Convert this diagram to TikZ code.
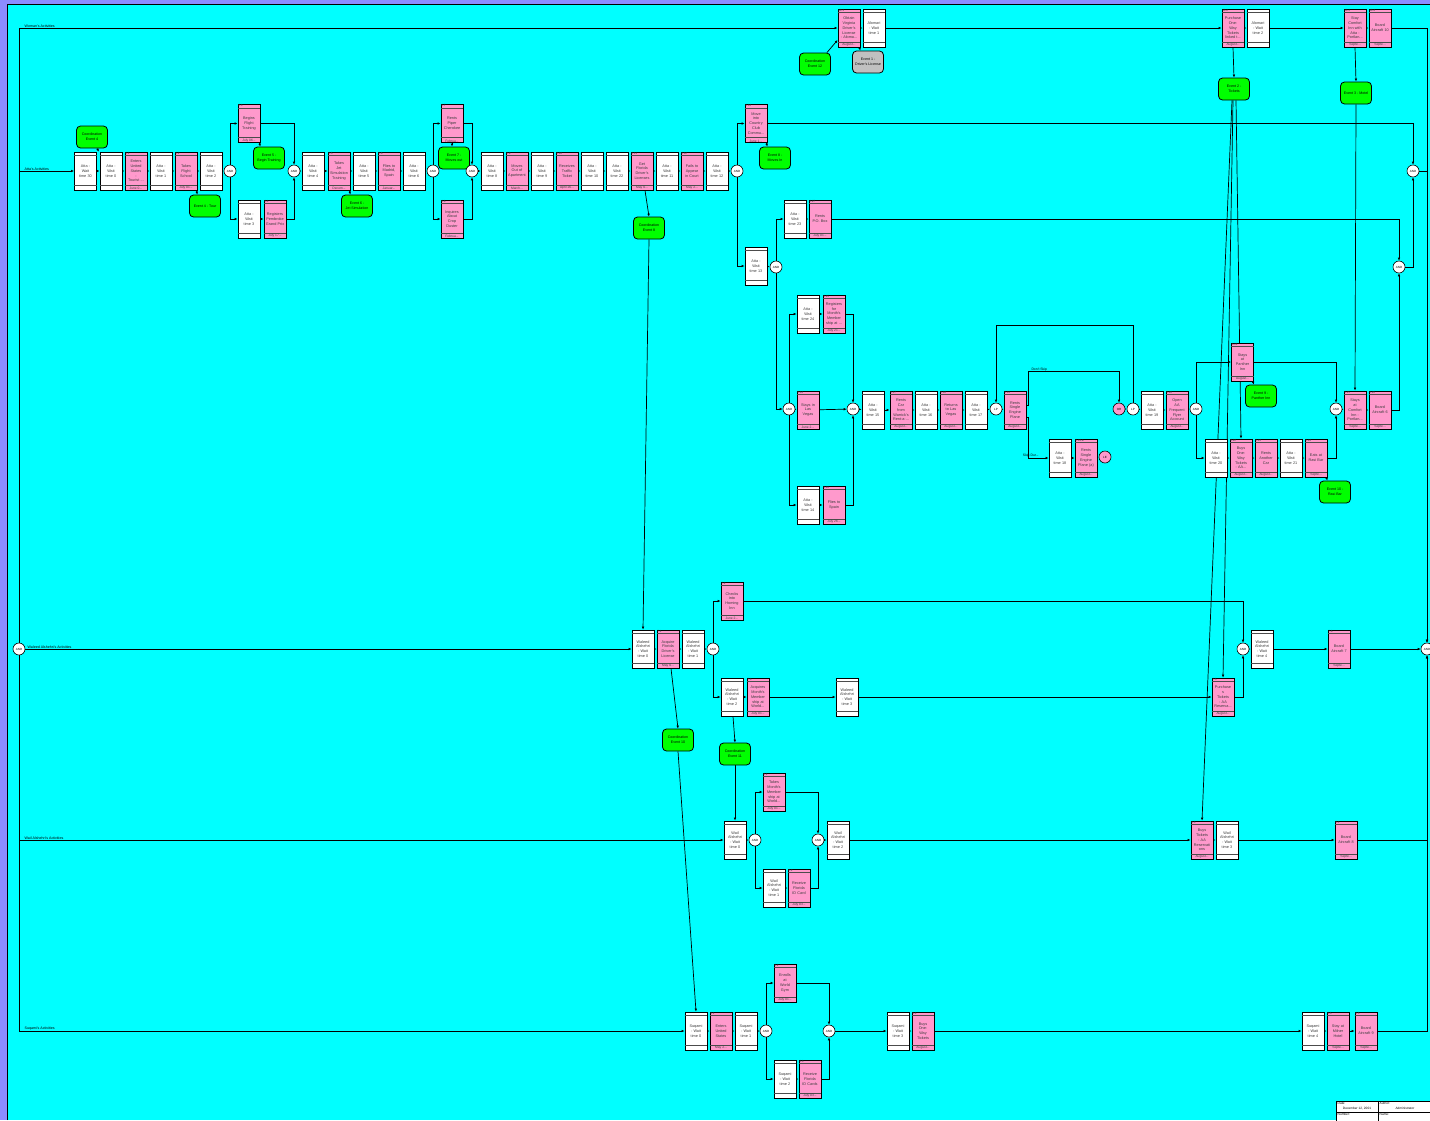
\documentclass[tikz,border=0pt]{standalone}
\usepackage{fontspec}
\setmainfont{Liberation Sans}
\usetikzlibrary{arrows.meta,calc}
\definecolor{bgcyan}{RGB}{0,255,255}
\definecolor{pinkbox}{RGB}{255,153,204}
\definecolor{evgreen}{RGB}{0,255,0}
\definecolor{evgray}{RGB}{192,192,192}
\definecolor{frameblue}{RGB}{140,140,255}
\definecolor{txt}{RGB}{60,60,60}
\pgfdeclarelayer{back}\pgfdeclarelayer{bg}\pgfsetlayers{back,bg,main}
\tikzset{
 boxbase/.style={draw=black, line width=0.8pt, rectangle, minimum width=22pt, minimum height=38pt, inner sep=0pt, text width=21pt, align=center, font=\fontsize{3.8}{4.8}\selectfont, text=txt},
 band/.style={draw=black!70, line width=0.9pt},
 idlab/.style={font=\fontsize{3}{3}\selectfont, inner sep=0.5pt, text=txt},
 datelab/.style={font=\fontsize{3.3}{3.3}\selectfont, inner sep=0.6pt, text=txt},
 gate/.style={circle, draw=black, line width=0.6pt, fill=white, minimum size=12pt, inner sep=0pt, font=\fontsize{3}{3}\selectfont},
 event/.style={rounded corners=4pt, draw=black, line width=0.8pt, fill=evgreen, minimum width=31pt, minimum height=22pt, inner sep=0pt, align=center, font=\fontsize{3.6}{4.8}\selectfont},
 ln/.style={draw=black, line width=0.7pt},
 arr/.style={ln, -{Latex[length=3pt,width=2.6pt]}},
 lanelab/.style={font=\fontsize{3.6}{4}\selectfont, anchor=south west, inner sep=0.5pt},
 tbl/.style={font=\fontsize{3.2}{3.6}\selectfont, inner sep=0.5pt},
}
\newcommand\wbox[4]{%
 \node[boxbase, fill=white] (#1) at (#2,#3) {#4};
 \draw[band] ($(#1.north west)+(0,4)$) -- ($(#1.north east)+(0,4)$);
 \draw[band] ($(#1.south west)+(0,-5)$) -- ($(#1.south east)+(0,-5)$);
}
\newcommand\pbox[6]{%
 \node[boxbase, fill=pinkbox] (#1) at (#2,#3) {#5};
 \draw[band] ($(#1.north west)+(0,4)$) -- ($(#1.north east)+(0,4)$);
 \draw[band] ($(#1.south west)+(0,-5)$) -- ($(#1.south east)+(0,-5)$);
 \node[idlab, anchor=north west] (#1-id) at (#1.north west) {#4};
 \node[datelab, anchor=south] (#1-dt) at (#1.south) {#6};
}
\begin{document}
\begin{tikzpicture}[x=1pt,y=-1pt]
\useasboundingbox (0,0) rectangle (1430,1120);
\begin{pgfonlayer}{back}
\fill[frameblue] (0,0) rectangle (1430,1120);
\fill[bgcyan] (7,4) rectangle (1430,1120);
\draw[line width=0.8pt] (7,1120) -- (7,4) -- (1430,4);
\end{pgfonlayer}

% lane labels
\node[lanelab] (lbw) at (24,28) {Woman's Activities};
\node[lanelab] (lba) at (24,171) {Atta's Activities};
\node[lanelab] (lbwa) at (27,649) {Waleed Alshehri's Activities};
\node[lanelab] (lbwl) at (24,840) {Wail Alshehri's Activities};
\node[lanelab] (lbs) at (24,1031) {Suqami's Activities};

\node[gate] (s0) at (19,649) {AND};
\node[gate] (f0) at (1427,649) {AND};

% Woman
\pbox{w1}{849}{28}{10.1}{Obtain\\Virginia\\Driver's\\License\\- Aloma...}{August...}
\wbox{w2}{874}{28}{Alomari\\- Wait\\time 1}
\pbox{w3}{1233}{28}{10.2}{Purchase\\One-\\Way\\Tickets\\linked t...}{August...}
\wbox{w4}{1258}{28}{Alomari\\- Wait\\time 2}
\pbox{w5}{1355}{28}{10.3}{Stay\\Comfort\\Inn with\\Atta -\\Portlan...}{Septe...}
\pbox{w6}{1380}{28}{10.4}{Board\\Aircraft 10}{Septe...}
\node[event] (ce12) at (815,64) {Coordination\\Event 12};
\node[event, fill=evgray] (ev1) at (868,62) {Event 1 -\\Driver's License};
\node[event] (ev2) at (1234,89) {Event 2 -\\Tickets};
\node[event] (ev3) at (1356,93) {Event 3 - Motel};

% Atta
\wbox{a30}{85.5}{171}{Atta -\\Wait\\time 30}
\wbox{a0}{111}{171}{Atta -\\Wait\\time 0}
\pbox{a61}{136}{171}{6.1}{Enters\\United\\States\\-\\Tourist ...}{June 0...}
\wbox{a1}{161}{171}{Atta -\\Wait\\time 1}
\pbox{a62}{186}{171}{6.2}{Takes\\Flight\\School}{July 01...}
\wbox{a2}{211}{171}{Atta -\\Wait\\time 2}
\node[gate] (g1) at (230,171) {AND};
\pbox{a63}{249}{123.5}{6.3}{Begins\\Flight\\Training}{July 06...}
\wbox{a3}{249}{219}{Atta -\\Wait\\time 3}
\pbox{a64}{275}{219}{6.4}{Registers\\Pembroke\\Grand Prix}{July 17...}
\node[gate] (g2) at (294,171) {AND};
\node[event] (ce4) at (92,137) {Coordination\\Event 4};
\node[event] (ev4) at (205,206) {Event 4 - Tour};
\node[event] (ev5) at (269,158) {Event 5 -\\Begin Training};
\wbox{a4}{313}{171}{Atta -\\Wait\\time 4}
\pbox{a65}{339}{171}{6.5}{Takes\\Jet\\Simulation\\Training}{Decem...}
\node[event] (ev6) at (357,206) {Event 6 -\\Jet Simulation};
\wbox{a5}{364}{171}{Atta -\\Wait\\time 5}
\pbox{a66}{389}{171}{6.6}{Flies to\\Madrid,\\Spain}{Januar...}
\wbox{a6}{414}{171}{Atta -\\Wait\\time 6}
\node[gate] (g3) at (433,171) {AND};
\pbox{a67}{452}{123.5}{6.7}{Rents\\Piper\\Cherokee}{Februa...}
\node[event] (ev7) at (454,158) {Event 7 -\\Moves out};
\pbox{a68}{452}{219}{6.8}{Inquires\\About\\Crop\\Duster}{Februa...}
\node[gate] (g4) at (472,171) {AND};
\wbox{a8}{492}{171}{Atta -\\Wait\\time 8}
\pbox{a69}{517}{171}{6.9}{Moves\\Out of\\Apartment}{March...}
\wbox{a9}{542}{171}{Atta -\\Wait\\time 9}
\pbox{a610}{567}{171}{6.10}{Receives\\Traffic\\Ticket}{April 26...}
\wbox{a10}{592}{171}{Atta -\\Wait\\time 10}
\wbox{a22}{617}{171}{Atta -\\Wait\\time 22}
\pbox{a611}{642}{171}{6.11}{Get\\Florida\\Driver's\\Licenses}{May 0...}
\wbox{a11}{667}{171}{Atta -\\Wait\\time 11}
\pbox{a612}{692}{171}{6.12}{Fails to\\Appear\\in Court}{May 2...}
\wbox{a12}{717}{171}{Atta -\\Wait\\time 12}
\node[gate] (g5) at (737,171) {AND};
\node[event] (ce8) at (649,228) {Coordination\\Event 8};
\pbox{a613}{756}{123.5}{6.13}{Move\\into\\Country\\Club\\Commu...}{June 1...}
\node[event] (ev8) at (775,158) {Event 8 -\\Moves In};
\wbox{a13}{756}{266}{Atta -\\Wait\\time 13}
\node[gate] (g6) at (776,267) {AND};
\wbox{a23}{795}{219}{Atta -\\Wait\\time 23}
\pbox{a627}{820}{219}{6.27}{Rents\\P.O. Box}{July 01...}
\node[gate] (g7) at (789,409) {AND};
\wbox{a24}{808}{314}{Atta -\\Wait\\time 24}
\pbox{a615}{834}{314}{6.15}{Registers\\for\\Month's\\Member\\ship at ...}{July 21...}
\pbox{a614}{808}{410}{6.14}{Stays in\\Las\\Vegas}{June 2...}
\wbox{a14b}{808}{505}{Atta -\\Wait\\time 14}
\pbox{a616}{834}{505}{6.16}{Flies to\\Spain}{July 26...}
\node[gate] (g8) at (853,409) {AND};
\wbox{a15}{873}{410}{Atta -\\Wait\\time 15}
\pbox{a617}{901}{410}{6.17}{Rents\\Car\\from\\Warrick's\\Rent-a-...}{August...}
\wbox{a16}{926}{410}{Atta -\\Wait\\time 16}
\pbox{a618}{951}{410}{6.18}{Returns\\to Las\\Vegas}{August...}
\wbox{a17}{976}{410}{Atta -\\Wait\\time 17}
\node[gate] (lp1) at (996,409) {LP};
\pbox{a619}{1015}{410}{6.19}{Rents\\Single\\Engine\\Plane}{August...}
\wbox{a18}{1060}{458}{Atta -\\Wait\\time 18}
\pbox{a619a}{1086}{458}{6.19.a}{Rents\\Single\\Engine\\Plane (a)}{August...}
\node[gate, fill=pinkbox] (le) at (1105,457) {LE};
\node[gate, fill=pinkbox] (or1) at (1119,409) {OR};
\node[gate] (lp2) at (1133,409) {LP};
\wbox{a19}{1152}{410}{Atta -\\Wait\\time 19}
\pbox{a620}{1177}{410}{6.20}{Open\\AA\\Frequent\\Flyer\\Account}{August...}
\node[gate] (g9) at (1196,409) {AND};
\pbox{a621}{1242.5}{362}{6.21}{Stays\\at\\Panther\\Inn}{August...}
\node[event] (ev9) at (1261,396) {Event 9 -\\Panther Inn};
\wbox{a20}{1216}{458}{Atta -\\Wait\\time 20}
\pbox{a622}{1241}{458}{6.22}{Buys\\One-\\Way\\Tickets\\- AA...}{August...}
\pbox{a623}{1266}{458}{6.23}{Rents\\Another\\Car}{August...}
\wbox{a21}{1291}{458}{Atta -\\Wait\\time 21}
\pbox{a624}{1316}{458}{6.24}{Eats at\\Rasi Bar}{Septe...}
\node[event] (ev10) at (1335,492) {Event 10 -\\Rasi Bar};
\node[gate] (g10) at (1336,409) {AND};
\pbox{a625}{1355}{410}{6.25}{Stays\\at\\Comfort\\Inn -\\Portlan...}{Septe...}
\pbox{a626}{1380}{410}{6.26}{Board\\Aircraft 6}{Septe...}
\node[gate] (g11) at (1399,267) {AND};
\node[gate] (g12) at (1413,171) {AND};

% Waleed
\wbox{wa0}{643}{649}{Waleed\\Alshehri\\- Wait\\time 0}
\pbox{wa71}{668}{649}{7.1}{Acquire\\Florida\\Driver's\\License}{May 0...}
\wbox{wa1}{693}{649}{Waleed\\Alshehri\\- Wait\\time 1}
\node[gate] (gw1) at (713,649) {AND};
\pbox{wa72}{732}{601}{7.2}{Checks\\into\\Homing\\Inn}{June 2...}
\wbox{wa2}{732}{697}{Waleed\\Alshehri\\- Wait\\time 2}
\pbox{wa73}{758}{697}{7.3}{Acquires\\Month's\\Member\\ship at\\World...}{July 01...}
\wbox{wa3}{847}{697}{Waleed\\Alshehri\\- Wait\\time 3}
\pbox{wa75}{1223}{697}{7.5}{Purchase\\s\\Tickets\\- AA\\Reserva...}{August...}
\node[gate] (gw2) at (1243,649) {AND};
\wbox{wa4}{1262}{649}{Waleed\\Alshehri\\- Wait\\time 4}
\pbox{wa76}{1339}{649}{7.6}{Board\\Aircraft 7}{Septe...}
\node[event] (ce10) at (678,740) {Coordination\\Event 10};
\node[event] (ce11) at (735,754) {Coordination\\Event 11};

% Wail
\wbox{wl0}{735}{840}{Wail\\Alshehri\\- Wait\\time 0}
\node[gate] (gl1) at (755,840) {AND};
\pbox{wl81}{774}{792}{8.1}{Takes\\Month's\\Member\\ship at\\World...}{July 01...}
\wbox{wl1}{774}{888}{Wail\\Alshehri\\- Wait\\time 1}
\pbox{wl82}{799}{888}{8.2}{Receive\\Florida\\ID Card}{July 03...}
\node[gate] (gl2) at (818,840) {AND};
\wbox{wl2}{838}{840}{Wail\\Alshehri\\- Wait\\time 2}
\pbox{wl83}{1202}{840}{8.3}{Buys\\Tickets\\- AA\\Reservati\\ons}{August...}
\wbox{wl3}{1227}{840}{Wail\\Alshehri\\- Wait\\time 3}
\pbox{wl84}{1346}{840}{8.4}{Board\\Aircraft 8}{Septe...}

% Suqami
\wbox{sq0}{696}{1031}{Suqami\\- Wait\\time 0}
\pbox{sq91}{721}{1031}{9.1}{Enters\\United\\States}{May 2...}
\wbox{sq1}{746}{1031}{Suqami\\- Wait\\time 1}
\node[gate] (gs1) at (766,1031) {AND};
\pbox{sq92}{785}{983}{9.2}{Enrolls\\at\\World\\Gym}{July 01...}
\wbox{sq2}{785}{1079}{Suqami\\- Wait\\time 2}
\pbox{sq93}{810}{1079}{9.3}{Receive\\Florida\\ID Cards}{July 03...}
\node[gate] (gs2) at (829,1031) {AND};
\wbox{sq3}{898}{1031}{Suqami\\- Wait\\time 3}
\pbox{sq94}{923}{1031}{9.4}{Buys\\One-\\Way\\Tickets}{August...}
\wbox{sq4}{1313}{1031}{Suqami\\- Wait\\time 4}
\pbox{sq95}{1338}{1031}{9.5}{Stay at\\Milner\\Hotel}{Septe...}
\pbox{sq96}{1366}{1031}{9.6}{Board\\Aircraft 9}{Septe...}

% title block
\node[draw, fill=white, line width=0.5pt, minimum width=96pt, minimum height=20pt, inner sep=0pt, anchor=north west] (tb) at (1336,1101) {};
\draw[line width=0.4pt] (1336,1112) -- (1432,1112);
\draw[line width=0.4pt] (1378,1101) -- (1378,1121);
\node[tbl, anchor=north west] (tb1) at (1337,1101.5) {Date:};
\node[tbl] (tb2) at (1357,1108.5) {December 12, 2001};
\node[tbl, anchor=north west] (tb3) at (1379,1101.5) {Author:};
\node[tbl] (tb4) at (1405,1108.5) {Administrator};
\node[tbl, anchor=north west] (tb5) at (1337,1112.5) {Number:};
\node[tbl, anchor=north west] (tb6) at (1379,1112.5) {Name:};

\begin{pgfonlayer}{bg}
% lanes from start
\draw[arr] (s0.north) |- (w1.west);
\draw[arr] (s0.north) |- (a30.west);
\draw[arr] (s0) -- (wa0);
\draw[arr] (s0.south) |- (wl0.west);
\draw[arr] (s0.south) |- (sq0.west);
% woman
\draw[arr] (w1) -- (w2);
\draw[arr] (w2) -- (w3);
\draw[arr] (w3) -- (w4);
\draw[arr] (w4) -- (w5);
\draw[arr] (w5) -- (w6);
\draw[arr] (w6.east) -| (f0.north);
\draw[arr] ($(ce12.north east)+(-4,0)$) -- ($(w1.west)+(0,12)$);
\draw[arr] ($(w1.south east)+(-1,0)$) -- (ev1.north -| w1.south east);
\draw[arr] (w3.south) -- (ev2.north);
\draw[arr] (w5.south) -- (ev3.north);
\draw[arr] ($(ev2.south)+(2,0)$) -- (a622.north);
\draw[arr] ($(ev2.south)+(-1,0)$) -- (wa75.north);
\draw[arr] ($(ev2.south)+(-2,0)$) -- (wl83.north);
\draw[arr] (ev3.south) -- (a625.north);
% atta
\draw[arr] ($(ce4.south)+(5,0)$) -- ($(a0.north)+(-12,0)$);
\draw[arr] (a30) -- (a0);
\draw[arr] (a0) -- (a61);
\draw[arr] (a61) -- (a1);
\draw[arr] (a1) -- (a62);
\draw[arr] (a62) -- (a2);
\draw[arr] (a2) -- (g1);
\draw[arr] (g1.north) |- (a63.west);
\draw[arr] (g1.south) |- (a3.west);
\draw[arr] (a3) -- (a64);
\draw[arr] (a63.east) -| (g2.north);
\draw[arr] (a64.east) -| (g2.south);
\draw[arr] ($(a62.south east)+(-1,0)$) -- (ev4.north -| a62.south east);
\draw[arr] ($(a63.south east)+(-1,0)$) -- (ev5.north -| a63.south east);
\draw[arr] (g2) -- (a4);
\draw[arr] (a4) -- (a65);
\draw[arr] (a65) -- (a5);
\draw[arr] (a5) -- (a66);
\draw[arr] (a66) -- (a6);
\draw[arr] (a6) -- (g3);
\draw[arr] ($(a65.south east)+(-1,0)$) -- (ev6.north -| a65.south east);
\draw[arr] (g3.north) |- (a67.west);
\draw[arr] (g3.south) |- (a68.west);
\draw[arr] (a67.east) -| (g4.north);
\draw[arr] (a68.east) -| (g4.south);
\draw[arr] (a67.south) -- (ev7.north -| a67.south);
\draw[arr] (g4) -- (a8);
\draw[arr] (a8) -- (a69);
\draw[arr] (a69) -- (a9);
\draw[arr] (a9) -- (a610);
\draw[arr] (a610) -- (a10);
\draw[arr] (a10) -- (a22);
\draw[arr] (a22) -- (a611);
\draw[arr] (a611) -- (a11);
\draw[arr] (a11) -- (a612);
\draw[arr] (a612) -- (a12);
\draw[arr] (a12) -- (g5);
\draw[arr] ($(a611.south)+(3,0)$) -- (ce8.north);
\draw[arr] (ce8.south) -- (wa0.north);
\draw[arr] (g5.north) |- (a613.west);
\draw[arr] (g5.south) |- (a13.west);
\draw[arr] ($(a613.south east)+(-1,0)$) -- (ev8.north -| a613.south east);
\draw[arr] (a613.east) -| (g12.north);
\draw[arr] (a13) -- (g6);
\draw[arr] (g6.north) |- (a23.west);
\draw[arr] (a23) -- (a627);
\draw[arr] (a627.east) -| (g11.north);
\draw[arr] (g6.south) |- (g7.west);
\draw[arr] (g7.north) |- (a24.west);
\draw[arr] (a24) -- (a615);
\draw[arr] (a615.east) -| (g8.north);
\draw[arr] (g7) -- (a614);
\draw[arr] (a614) -- (g8);
\draw[arr] (g7.south) |- (a14b.west);
\draw[arr] (a14b) -- (a616);
\draw[arr] (a616.east) -| (g8.south);
\draw[arr] (g8) -- (a15);
\draw[arr] (a15) -- (a617);
\draw[arr] (a617) -- (a16);
\draw[arr] (a16) -- (a618);
\draw[arr] (a618) -- (a17);
\draw[arr] (a17) -- (lp1);
\draw[arr] (lp1) -- (a619);
\draw[arr] ($(a619.east)+(0,-5)$) -- ++(2,0) |- node[pos=0.56, above, font=\fontsize{3.4}{3.4}\selectfont, inner sep=0.6pt] (dsk) {Don't Skip} ($(or1.north)+(0,-31)$) -- (or1.north);
\draw[arr] ($(a619.east)+(0,7)$) -- ++(2,0) |- node[pos=0.56, above, font=\fontsize{3.4}{3.4}\selectfont, inner sep=0.6pt] (skd) {Skip Dur...} (a18.west);
\draw[arr] (a18) -- (a619a);
\draw[arr] (a619a) -- (le);
\draw[arr] (or1) -- (lp2);
\draw[arr] (lp2.north) -- ++(0,-77) -| (lp1.north);
\draw[arr] (lp2) -- (a19);
\draw[arr] (a19) -- (a620);
\draw[arr] (a620) -- (g9);
\draw[arr] (g9.north) |- (a621.west);
\draw[arr] (g9.south) |- (a20.west);
\draw[arr] ($(a621.south east)+(-1,0)$) -- (ev9.north -| a621.south east);
\draw[arr] (a20) -- (a622);
\draw[arr] (a622) -- (a623);
\draw[arr] (a623) -- (a21);
\draw[arr] (a21) -- (a624);
\draw[arr] ($(a624.south east)+(-1,0)$) -- (ev10.north -| a624.south east);
\draw[arr] (a621.east) -| (g10.north);
\draw[arr] (a624.east) -| (g10.south);
\draw[arr] (g10) -- (a625);
\draw[arr] (a625) -- (a626);
\draw[arr] (a626.east) -| (g11.south);
\draw[arr] (g11.east) -| (g12.south);
\draw[arr] (g12.east) -| (f0.north);
% waleed
\draw[arr] (wa0) -- (wa71);
\draw[arr] (wa71) -- (wa1);
\draw[arr] (wa1) -- (gw1);
\draw[arr] (gw1.north) |- (wa72.west);
\draw[arr] (gw1.south) |- (wa2.west);
\draw[arr] (wa2) -- (wa73);
\draw[arr] (wa73) -- (wa3);
\draw[arr] (wa3) -- (wa75);
\draw[arr] (wa72.east) -| (gw2.north);
\draw[arr] (wa75.east) -| (gw2.south);
\draw[arr] (gw2) -- (wa4);
\draw[arr] (wa4) -- (wa76);
\draw[arr] (wa76) -- (f0);
\draw[arr] ($(wa71.south)+(3,0)$) -- (ce10.north);
\draw[arr] ($(wa2.south)+(1,0)$) -- (ce11.north);
\draw[arr] (ce10.south) -- (sq0.north);
\draw[arr] (ce11.south) -- (wl0.north);
% wail
\draw[arr] (wl0) -- (gl1);
\draw[arr] (gl1.north) |- (wl81.west);
\draw[arr] (gl1.south) |- (wl1.west);
\draw[arr] (wl1) -- (wl82);
\draw[arr] (wl81.east) -| (gl2.north);
\draw[arr] (wl82.east) -| (gl2.south);
\draw[arr] (gl2) -- (wl2);
\draw[arr] (wl2) -- (wl83);
\draw[arr] (wl83) -- (wl3);
\draw[arr] (wl3) -- (wl84);
\draw[arr] (wl84.east) -| (f0.south);
% suqami
\draw[arr] (sq0) -- (sq91);
\draw[arr] (sq91) -- (sq1);
\draw[arr] (sq1) -- (gs1);
\draw[arr] (gs1.north) |- (sq92.west);
\draw[arr] (gs1.south) |- (sq2.west);
\draw[arr] (sq2) -- (sq93);
\draw[arr] (sq92.east) -| (gs2.north);
\draw[arr] (sq93.east) -| (gs2.south);
\draw[arr] (gs2) -- (sq3);
\draw[arr] (sq3) -- (sq94);
\draw[arr] (sq94) -- (sq4);
\draw[arr] (sq4) -- (sq95);
\draw[arr] (sq95) -- (sq96);
\draw[arr] (sq96.east) -| (f0.south);
\end{pgfonlayer}
\end{tikzpicture}
\end{document}
